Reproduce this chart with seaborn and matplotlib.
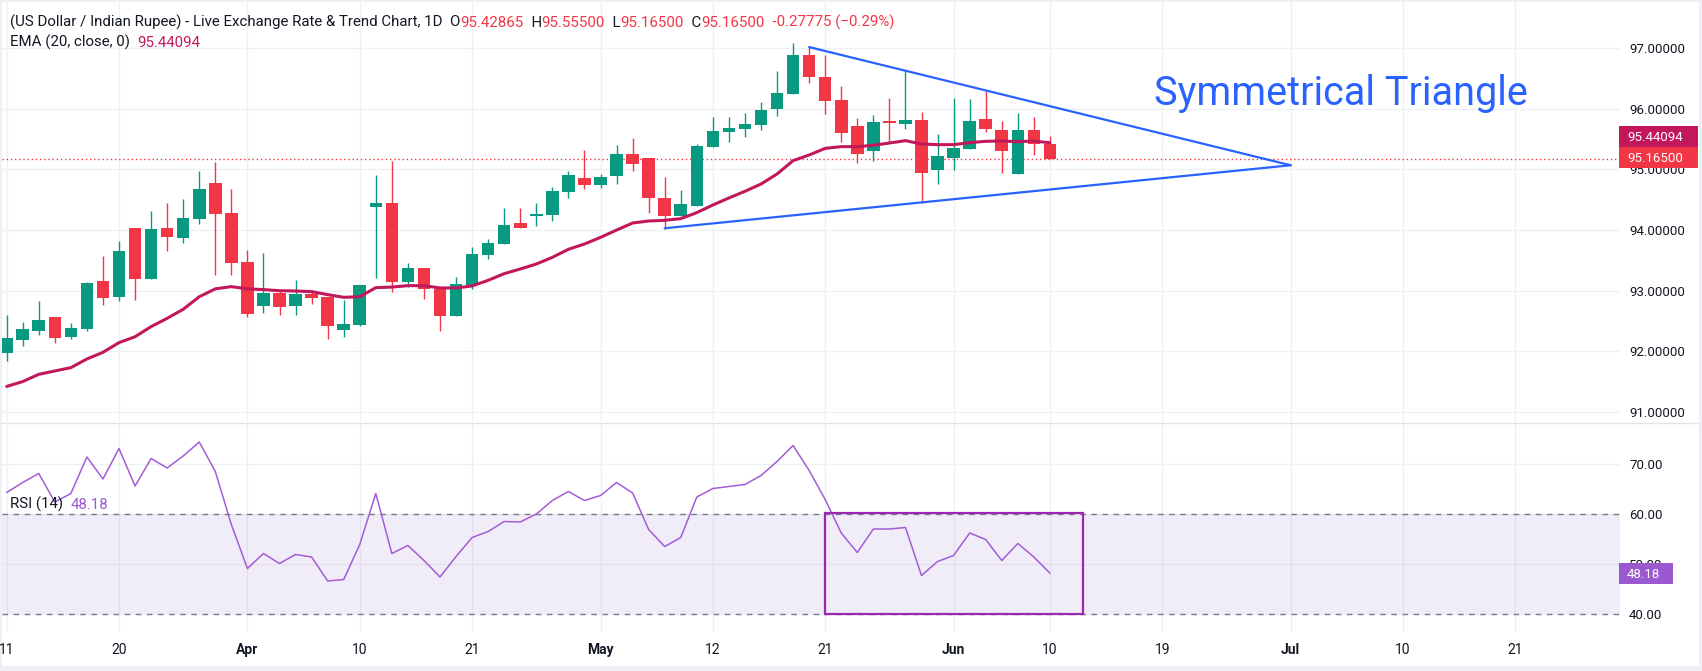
import numpy as np
import pandas as pd
import matplotlib
matplotlib.use("Agg")
import matplotlib.pyplot as plt
import seaborn as sns
from matplotlib.patches import Rectangle
from matplotlib.lines import Line2D

# USD/INR daily candles, 11 Mar - 10 Jun 2025
opens = [91.967, 92.187, 92.335, 92.566, 92.236, 92.368, 93.160, 92.902, 94.035, 93.199,
         94.035, 93.875, 94.189, 94.783, 94.282, 93.474, 92.753, 92.962, 92.753, 92.946,
         92.896, 92.352, 92.434, 94.387, 94.447, 93.149, 93.375, 93.034, 92.588, 93.094,
         93.589, 93.771, 94.117, 94.238, 94.255, 94.634, 94.860, 94.750, 94.898, 95.256,
         95.190, 94.530, 94.238, 94.403, 95.377, 95.624, 95.674, 95.740, 96.004, 96.251,
         96.890, 96.526, 96.147, 95.718, 95.311, 95.800, 95.756, 95.817, 94.997, 95.195,
         95.344, 95.833, 95.652, 94.931, 95.652, 95.42865]
highs = [92.600, 92.484, 92.830, 92.570, 92.473, 93.150, 93.573, 93.826, 94.040, 94.321,
         94.453, 94.513, 94.976, 95.130, 94.678, 93.672, 93.622, 92.990, 93.177, 93.012,
         92.900, 92.847, 93.100, 94.910, 95.140, 93.457, 93.380, 93.040, 93.226, 93.721,
         93.853, 94.365, 94.365, 94.442, 94.711, 94.975, 95.322, 94.926, 95.404, 95.520,
         95.190, 94.876, 94.662, 95.421, 95.866, 95.866, 95.932, 96.114, 96.625, 97.087,
         97.038, 96.890, 96.378, 95.850, 95.900, 96.180, 96.642, 95.949, 95.586, 96.180,
         96.163, 96.295, 95.800, 95.932, 95.866, 95.555]
lows = [91.845, 92.088, 92.270, 92.143, 92.198, 92.330, 92.764, 92.830, 92.847, 93.199,
        93.655, 93.793, 94.106, 93.265, 93.265, 92.572, 92.638, 92.599, 92.599, 92.786,
        92.203, 92.242, 92.418, 93.215, 92.984, 93.067, 92.869, 92.340, 92.588, 93.034,
        93.529, 93.770, 94.035, 94.073, 94.156, 94.535, 94.684, 94.700, 94.766, 94.980,
        94.288, 94.024, 94.238, 94.400, 95.377, 95.459, 95.542, 95.657, 95.888, 96.250,
        96.427, 95.916, 95.454, 95.107, 95.146, 95.454, 95.668, 94.453, 94.766, 94.997,
        95.344, 95.619, 94.948, 94.930, 95.245, 95.165]
closes = [92.214, 92.368, 92.517, 92.220, 92.385, 93.128, 92.885, 93.655, 93.199, 94.018,
          93.892, 94.200, 94.678, 94.271, 93.463, 92.621, 92.962, 92.737, 92.946, 92.885,
          92.418, 92.451, 93.094, 94.447, 93.149, 93.375, 93.034, 92.588, 93.111, 93.606,
          93.787, 94.084, 94.035, 94.271, 94.645, 94.909, 94.750, 94.876, 95.256, 95.096,
          94.535, 94.238, 94.431, 95.388, 95.635, 95.685, 95.751, 95.982, 96.262, 96.890,
          96.526, 96.130, 95.602, 95.256, 95.784, 95.767, 95.817, 94.948, 95.223, 95.355,
          95.800, 95.674, 95.311, 95.652, 95.426, 95.165]
ema20 = [91.42, 91.50, 91.62, 91.675, 91.73, 91.873, 91.983, 92.143, 92.24, 92.407,
         92.544, 92.693, 92.90, 93.03, 93.067, 93.03, 93.018, 93.00, 92.995, 92.984,
         92.935, 92.891, 92.90, 93.05, 93.06, 93.083, 93.083, 93.045, 93.045, 93.078,
         93.171, 93.281, 93.358, 93.44, 93.55, 93.683, 93.77, 93.88, 94.00, 94.117,
         94.15, 94.161, 94.189, 94.288, 94.414, 94.53, 94.64, 94.76, 94.926, 95.146,
         95.239, 95.349, 95.377, 95.377, 95.399, 95.437, 95.476, 95.421, 95.41, 95.41,
         95.443, 95.465, 95.47, 95.459, 95.47, 95.44094]
rsi14 = [64.3, 66.3, 68.1, 62.4, 64.1, 71.4, 67.0, 73.1, 65.6, 71.1,
         69.2, 71.6, 74.4, 68.5, 57.9, 49.1, 52.1, 50.1, 51.9, 51.4,
         46.6, 46.9, 53.9, 64.1, 52.1, 53.7, 50.7, 47.4, 51.5, 55.3,
         56.5, 58.5, 58.4, 60.0, 62.7, 64.5, 62.7, 63.7, 66.3, 64.2,
         56.9, 53.5, 55.3, 63.4, 65.1, 65.5, 65.9, 67.7, 70.5, 73.7,
         68.7, 62.9, 56.2, 52.3, 57.0, 57.0, 57.3, 47.7, 50.5, 51.7,
         56.2, 54.9, 50.7, 54.1, 51.4, 48.18]

tick_dates = ['2025-03-11', '2025-03-20', '2025-04-01', '2025-04-10', '2025-04-21',
              '2025-05-01', '2025-05-12', '2025-05-21', '2025-06-02', '2025-06-10',
              '2025-06-19', '2025-07-01', '2025-07-10', '2025-07-21']
tick_labels = ['11', '20', 'Apr', '10', '21', 'May', '12', '21', 'Jun', '10',
               '19', 'Jul', '10', '21']
months = ['Apr', 'May', 'Jun', 'Jul']

# triangle trendlines and RSI box (date, value)
upper_line = (['2025-05-20', '2025-07-01'], [97.02, 95.07])
lower_line = (['2025-05-07', '2025-07-01'], [94.03, 95.07])
rsi_box = (['2025-05-21', '2025-06-12'], [40.0, 60.3])

GREEN = '#089981'
RED = '#f23645'
EMA_C = '#c2185b'
RSI_C = '#a35cd6'
BLUE = '#2962ff'
TXT = '#131722'
GRID = '#eef0f3'

days = pd.bdate_range('2025-03-11', '2025-08-08')
def pos(d):
    return days.get_loc(pd.Timestamp(d))

df = pd.DataFrame({'open': opens, 'high': highs, 'low': lows, 'close': closes,
                   'ema': ema20, 'rsi': rsi14})
df['i'] = np.arange(len(df))

sns.set_theme(style='white')
plt.rcParams['font.family'] = ['Roboto', 'DejaVu Sans']

W, H = 1702, 671
fig = plt.figure(figsize=(W / 100, H / 100), dpi=100, facecolor='#eef0f4')
fig.add_artist(Rectangle((2 / W, 5 / H), 1697 / W, 664 / H, transform=fig.transFigure,
                         facecolor='white', edgecolor='none', zorder=-5))

ax = fig.add_axes([2 / W, 1 - 422 / H, 1618 / W, 420 / H])
ax2 = fig.add_axes([2 / W, 1 - 632 / H, 1618 / W, 209 / H], sharex=ax)
for a in (ax, ax2):
    a.set_facecolor('none')
    for s in a.spines.values():
        s.set_visible(False)

fig.add_artist(Line2D([2 / W, 1699 / W], [1 - 422.5 / H] * 2, transform=fig.transFigure,
                      color='#e0e3eb', lw=1))

# candles
up = df['close'] >= df['open']
cols = np.where(up, GREEN, RED)
ax.vlines(df['i'], df['low'], df['high'], colors=cols, lw=1, zorder=3)
body = np.maximum((df['close'] - df['open']).abs(), 0.012)
ax.bar(df['i'], body, bottom=np.minimum(df['open'], df['close']), width=0.78,
       color=cols, zorder=4, linewidth=0)

sns.lineplot(data=df, x='i', y='ema', ax=ax, color=EMA_C, lw=2.2, zorder=5)

# close price line
ax.axhline(closes[-1], color=RED, lw=1, ls=(0, (1, 2)), zorder=2)

# triangle
ax.plot([pos(d) for d in upper_line[0]], upper_line[1], color=BLUE, lw=1.6, zorder=6)
ax.plot([pos(d) for d in lower_line[0]], lower_line[1], color=BLUE, lw=1.6, zorder=6)

ax.set_xlim(-0.29, 100.52)
ax.set_ylim(90.833, 97.764)
ax.set_xlabel('')
ax.set_ylabel('')

tick_pos = [pos(d) for d in tick_dates]
ax.set_xticks(tick_pos)
ax.set_yticks(range(91, 98))
ax.set_yticklabels([f'{v:.5f}' for v in range(91, 98)])
ax.yaxis.tick_right()
ax.tick_params(axis='x', labelbottom=False, length=0)
ax.tick_params(axis='y', length=0, pad=6.5, labelsize=9.5, labelcolor=TXT)
ax.grid(True, color=GRID, lw=1, zorder=0)

# RSI pane
ax2.axhspan(40, 60, color='#7e57c2', alpha=0.1, lw=0, zorder=1)
for lv in (60, 40):
    ax2.axhline(lv, color='#787b86', lw=1, ls=(0, (4, 4)), zorder=2)
sns.lineplot(data=df, x='i', y='rsi', ax=ax2, color=RSI_C, lw=1.1, zorder=4)
bx0, bx1 = pos(rsi_box[0][0]), pos(rsi_box[0][1])
ax2.add_patch(Rectangle((bx0, rsi_box[1][0]), bx1 - bx0 + 0.06, rsi_box[1][1] - rsi_box[1][0],
                        facecolor='none', edgecolor='#9c27b0', lw=1.6, zorder=5))
ax2.set_ylim(36.4, 78.2)
ax2.set_xlabel('')
ax2.set_ylabel('')
ax2.set_yticks([40, 50, 60, 70])
ax2.set_yticklabels(['40.00', '50.00', '60.00', '70.00'])
ax2.yaxis.tick_right()
ax2.tick_params(axis='y', length=0, pad=6.5, labelsize=9.5, labelcolor=TXT)
ax2.set_xticks(tick_pos)
ax2.set_xticklabels(tick_labels)
ax2.tick_params(axis='x', length=0, pad=8, labelsize=10, labelcolor=TXT)
for t in ax2.get_xticklabels():
    if t.get_text() in months:
        t.set_fontweight('bold')
ax2.grid(True, color=GRID, lw=1, zorder=0)

# price tags on the right axis (stacked like the platform does)
def tag(yd, text, color, w):
    fig.add_artist(Rectangle((1619 / W, (yd - 10.5) / H), w / W, 21 / H,
                             transform=fig.transFigure, facecolor=color, edgecolor='none',
                             zorder=10))
    fig.text(1627 / W, yd / H, text, color='white', fontsize=9.5, va='center_baseline',
             ha='left', zorder=11)

y_close = ax.transData.transform((0, closes[-1]))[1] + 2
tag(y_close + 21, f'{ema20[-1]:.5f}', EMA_C, 79)
tag(y_close, f'{closes[-1]:.5f}', RED, 79)
tag(ax2.transData.transform((0, rsi14[-1]))[1], f'{rsi14[-1]:.2f}', '#9b59d0', 54)

# legends
renderer = fig.canvas.get_renderer()
def legend_line(parts, x, y, size=10.8):
    for s, c in parts:
        t = fig.text(x / W, 1 - y / H, s, color=c, fontsize=size, va='baseline', ha='left')
        x += t.get_window_extent(renderer).width

legend_line([('(US Dollar / Indian Rupee) - Live Exchange Rate & Trend Chart, 1D  O', TXT),
             ('95.42865', RED), ('  H', TXT), ('95.55500', RED), ('  L', TXT),
             ('95.16500', RED), ('  C', TXT), ('95.16500', RED),
             ('  -0.27775 (\u22120.29%)', RED)], 10, 27)
legend_line([('EMA (20, close, 0)  ', TXT), (f'{ema20[-1]:.5f}', EMA_C)], 10, 47)
legend_line([('RSI (14)  ', TXT), (f'{rsi14[-1]:.2f}', '#9b59d0')], 10, 509)

fig.text(1154 / W, 1 - 105 / H, 'Symmetrical Triangle', fontsize=28.5, color=BLUE,
         va='baseline', ha='left')

fig.savefig('out.png', dpi=100, facecolor=fig.get_facecolor())
